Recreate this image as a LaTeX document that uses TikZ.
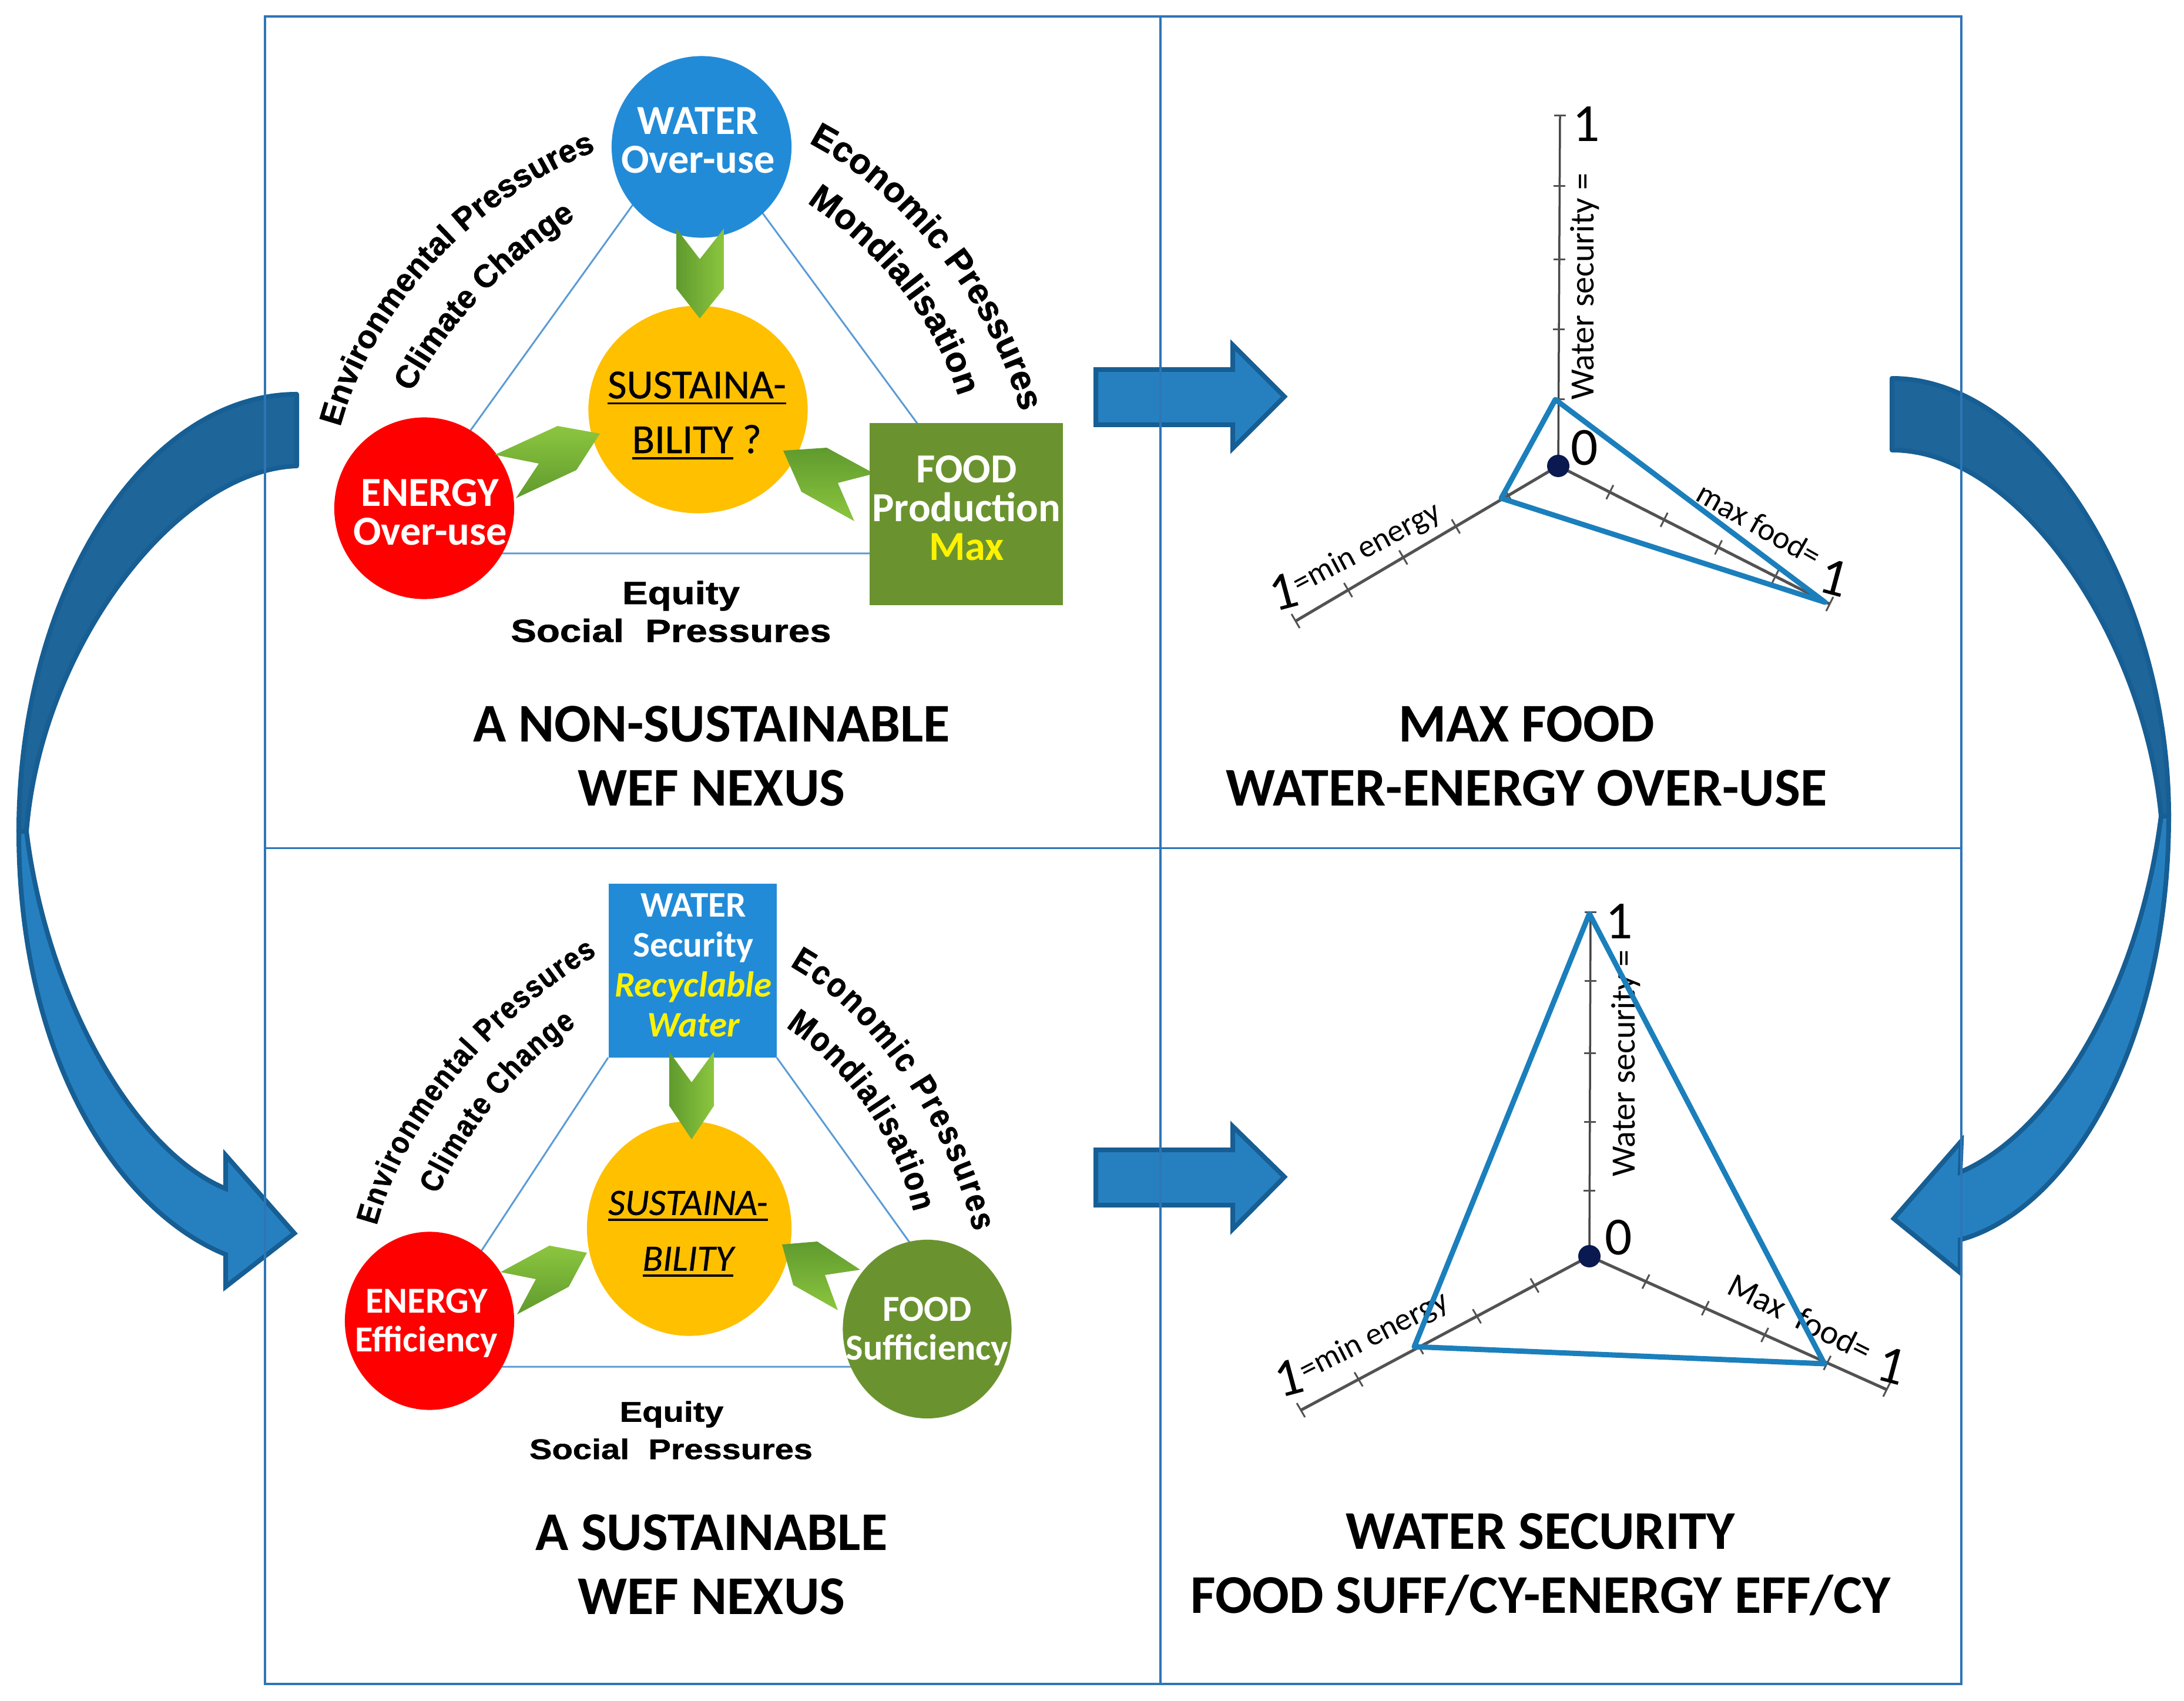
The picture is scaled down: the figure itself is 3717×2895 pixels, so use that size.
\documentclass[tikz,border=0pt]{standalone}
\usepackage{fontspec}
\usetikzlibrary{shapes.geometric,decorations.text,calc}
\setmainfont{Carlito}
\newfontfamily\carm{Carlito}[FakeBold=0.5]
\newfontfamily\arcf{Liberation Sans}[BoldFeatures={FakeBold=1.2}]
\newfontfamily\arcn{Liberation Sans}[BoldFeatures={FakeBold=1.2,FakeStretch=0.88}]
\newfontfamily\wid{Liberation Sans}[BoldFeatures={FakeBold=1.2,FakeStretch=1.2}]
\newcommand{\uln}[1]{\leavevmode\setbox0\hbox{#1}\rlap{\rule[-3pt]{\wd0}{1.1pt}}\box0\relax}
\definecolor{wblue}{HTML}{228BD8}
\definecolor{fgreen}{HTML}{6A932F}
\definecolor{sgold}{HTML}{FFC000}
\definecolor{tri}{HTML}{5B9BD5}
\definecolor{frameC}{HTML}{2E75B6}
\definecolor{arF}{HTML}{2680C0}
\definecolor{arB}{HTML}{1E6699}
\definecolor{arE}{HTML}{165E93}
\definecolor{gL}{HTML}{8CC63F}
\definecolor{gD}{HTML}{5F9A2E}
\definecolor{radar}{HTML}{1B7FBC}
\definecolor{navy}{HTML}{0A1A50}
\tikzset{
  fs/.style={font=\bfseries\fontsize{#1}{18.8}\selectfont},
  blob/.style n args={3}{ellipse,inner sep=0pt,minimum width=#1cm,minimum height=#2cm,fill=#3},
  wtxt/.style={text=white,align=center,inner sep=0pt},
  tline/.style={tri,line width=.03cm},
  bigar/.style={fill=arF,draw=arE,line width=.08cm,line join=miter},
  bigback/.style={fill=arB,draw=arE,line width=.08cm,line join=round},
  lcho/.style={top color=gL,bottom color=gD},
  dcho/.style={left color=gD,right color=gL},
  rcho/.style={top color=gD,bottom color=gL},
  arctx/.style n args={2}{decorate,decoration={text along path,text align={fit to path},
     text={|\arcf\bfseries\fontsize{#1}{#1}\selectfont|#2}}},
  arcnx/.style n args={2}{decorate,decoration={text along path,text align={fit to path},
     text={|\arcn\bfseries\fontsize{#1}{#1}\selectfont|#2}}},
  flat/.style={inner sep=0pt,align=center,font=\wid\bfseries\fontsize{#1}{#1}\selectfont},
  title/.style={inner sep=0pt,align=center,font=\bfseries\fontsize{26.4}{31}\selectfont},
  axisL/.style={draw=black!68,line width=.05cm},
  axisV/.style={draw=black!72,line width=.035cm},
  tick/.style={draw=black!68,line width=.03cm},
  rtri/.style={draw=radar,line width=.09cm,line join=round},
  dig/.style={inner sep=0pt,font=\fontsize{26}{26}\selectfont},
  rlab/.style={inner sep=0pt,font=\fontsize{#1}{#1}\selectfont},
  dot/.style={circle,fill=navy,inner sep=0pt,minimum size=.38cm},
}
\begin{document}
\begin{tikzpicture}[x=.01cm,y=-.01cm]
\useasboundingbox (0,0) rectangle (3717,2895);

% curved arrows
\draw[bigar] (32,1415) .. controls (32,1800) and (200,2060) .. (384,2135) -- (384,2190) -- (501,2099) -- (384,1966) -- (384,2023) .. controls (230,1960) and (80,1700) .. (45,1415) -- cycle;
\draw[bigback] (505,671) .. controls (247,671) and (32,1006) .. (32,1415) -- (45,1415) .. controls (70,1100) and (300,800) .. (505,793) -- cycle;
\draw[bigar] (3691,1389) .. controls (3691,1780) and (3520,2060) .. (3336,2110) -- (3336,2166) -- (3223,2074) -- (3338,1942) -- (3336,1995) .. controls (3490,1930) and (3640,1690) .. (3678,1389) -- cycle;
\draw[bigback] (3220,644) .. controls (3470,644) and (3691,1010) .. (3691,1389) -- (3678,1389) .. controls (3650,1090) and (3440,766) .. (3220,766) -- cycle;
% straight arrows
\draw[bigar] (1865,629) -- (2098,629) -- (2098,587) -- (2186,675) -- (2098,763) -- (2098,723) -- (1865,723) -- cycle;
\draw[bigar] (1865,1957) -- (2098,1957) -- (2098,1917) -- (2186,2003) -- (2098,2092) -- (2098,2051) -- (1865,2051) -- cycle;

% frame
\draw[frameC,line width=.035cm] (451,28) rectangle (3338,2866);
\draw[frameC,line width=.035cm] (1975,28) -- (1975,2866);
\draw[frameC,line width=.03cm] (451,1444) -- (3338,1444);

%%%% TOP LEFT
\coordinate (ta) at (1181,204);
\coordinate (tb) at (650,942);
\coordinate (tc) at (1724,942);
\draw[tline] (ta) -- (tb) -- (tc) -- cycle;
\node[blob={3.06}{3.09}{wblue}] (water1) at (1194,250) {};
\node[blob={3.73}{3.53}{sgold}] (sus1) at (1188,697) {};
\node[blob={3.06}{3.09}{red}] (energy1) at (722,865) {};
\path[lcho] (842,774) -- (949,725) -- (1021,738) -- (981,800) -- (878,848) -- (917,789) -- cycle;
\path[rcho] (1333,767) -- (1407,762) -- (1488,806) -- (1426,822) -- (1454,887) -- (1364,837) -- cycle;
\path[dcho] (1151,389) -- (1191,441) -- (1232,389) -- (1232,491) -- (1191,542) -- (1151,491) -- cycle;
\node[fill=fgreen,inner sep=0pt,minimum width=3.29cm,minimum height=3.10cm] (food1) at (1644.5,875) {};
\node[wtxt,fs=20] (water1t) at (1188,239) {WATER\\Over-use};
\node[wtxt,fs=20] (energy1t) at (732,872) {ENERGY\\Over-use};
\node[wtxt,fs=20] (food1t) at (1645,865) {FOOD\\Production\\\textcolor{yellow}{Max}};
\node[inner sep=0pt,align=center,font=\carm\fontsize{20}{26.5}\selectfont] (sus1t) at (1186,707) {\uln{SUSTAINA-}\\\uln{BILITY}\ ?};
\path[arctx={15.5}{Environmental Pressures}] (579,727) .. controls (632,529) and (804,338) .. (1014,257);
\path[arctx={15.5}{Climate Change}] (701,668) .. controls (756,558) and (861,448) .. (974,375);
\path[arctx={17}{Economic Pressures}] (1376,243) .. controls (1531,323) and (1684,507) .. (1737,701);
\path[arctx={17}{Mondialisation}] (1373,345) .. controls (1474,411) and (1588,529) .. (1631,675);
\node[flat=15.5] (eq1) at (1159,1014) {Equity};
\node[flat=15.5] (soc1) at (1142,1073) {Social\ \ Pressures};
\node[title] (title1) at (1211,1287) {A NON-SUSTAINABLE\\WEF NEXUS};

%%%% BOTTOM LEFT
\coordinate (bb) at (690,2326);
\coordinate (bc) at (1700,2326);
\coordinate (ba1) at (1035,1800);
\coordinate (ba2) at (1322,1800);
\draw[tline] (ba1) -- (bb) -- (bc) -- (ba2);
\node[fill=wblue,inner sep=0pt,minimum width=2.86cm,minimum height=2.96cm] (water2) at (1179,1652) {};
\node[blob={3.48}{3.65}{sgold}] (sus2) at (1173,2091) {};
\node[blob={2.88}{3.03}{red}] (energy2) at (731,2248) {};
\node[blob={2.87}{3.04}{fgreen}] (food2) at (1578,2262) {};
\path[lcho] (852,2165) -- (935,2120) -- (999,2132) -- (968,2190) -- (880,2237) -- (912,2177) -- cycle;
\path[rcho] (1331,2118) -- (1391,2113) -- (1464,2161) -- (1404,2170) -- (1426,2230) -- (1350,2187) -- cycle;
\path[dcho] (1139,1790) -- (1177,1842) -- (1215,1790) -- (1215,1882) -- (1177,1939) -- (1139,1882) -- cycle;
\node[wtxt,font=\bfseries\fontsize{17.4}{19.3}\selectfont] (water2t) at (1180,1643) {WATER\\Security\\\textcolor{yellow}{\itshape Recyclable}\\\textcolor{yellow}{\itshape Water}};
\node[wtxt,fs=17.7] (energy2t) at (726,2252) {ENERGY\\Efficiency};
\node[wtxt,fs=17.7] (food2t) at (1578,2266) {FOOD\\Sufficiency};
\node[inner sep=0pt,align=center,font=\carm\itshape\fontsize{18}{27}\selectfont] (sus2t) at (1171,2100) {\uln{SUSTAINA-}\\\uln{BILITY}};
\path[arcnx={15}{Environmental Pressures}] (641,2086) .. controls (687,1912) and (832,1738) .. (1016,1625);
\path[arcnx={15}{Climate Change}] (745,2033) .. controls (790,1932) and (881,1812) .. (981,1745);
\path[arcnx={16.5}{Economic Pressures}] (1344,1644) .. controls (1478,1718) and (1611,1905) .. (1657,2096);
\path[arcnx={16.5}{Mondialisation}] (1337,1748) .. controls (1425,1805) and (1520,1919) .. (1555,2063);
\node[flat=13.7] (eq2) at (1143,2407) {Equity};
\node[flat=13.7] (soc2) at (1142,2466) {Social\ \ Pressures};
\node[title] (title2) at (1211,2663) {A SUSTAINABLE\\WEF NEXUS};

%%%% TOP RIGHT radar
\coordinate (o1) at (2652,793);
\coordinate (v1) at (2655,197);
\coordinate (l1) at (2205,1057);
\coordinate (r1) at (3114,1028);
\draw[axisV] (o1) -- (v1);
\draw[axisL] (o1) -- (l1);
\draw[axisL] (o1) -- (r1);
\foreach \f in {.19,.39,.59,.80,1}{
  \draw[tick] ($(o1)!\f!(v1)$) ++(-10,0) -- ++(20,0);
  \draw[tick] ($(o1)!\f!(l1)$) ++(-7,-12) -- ++(14,24);
  \draw[tick] ($(o1)!\f!(r1)$) ++(6,-12) -- ++(-12,24);
}
\coordinate (t1a) at (2647,680);
\coordinate (t1b) at (2555,848);
\coordinate (t1c) at (3106,1025);
\draw[rtri] (t1a) -- (t1b) -- (t1c) -- cycle;
\node[dot] (dot1) at (o1) {};
\node[dig] (one1v) at (2700,211) {1};
\node[dig] (zero1) at (2697,762) {0};
\node[dig,rotate=15] (one1l) at (2184,1007) {1};
\node[dig,rotate=-15] (one1r) at (3121,983) {1};
\node[rlab=16.5,rotate=90] (ws1) at (2697,488) {Water security =};
\node[rlab=15.5,rotate=28] (me1) at (2327,934) {=min energy};
\node[rlab=15.5,rotate=-29.5] (mf1) at (2994,892) {max food=};
\node[title] (title3) at (2598,1287) {MAX FOOD\\WATER-ENERGY OVER-USE};

%%%% BOTTOM RIGHT radar
\coordinate (o2) at (2705,2138);
\coordinate (v2) at (2707,1553);
\coordinate (l2) at (2214,2400);
\coordinate (r2) at (3211,2365);
\draw[axisV] (o2) -- (v2);
\draw[axisL] (o2) -- (l2);
\draw[axisL] (o2) -- (r2);
\foreach \f in {.19,.39,.59,.80,1}{
  \draw[tick] ($(o2)!\f!(v2)$) ++(-10,0) -- ++(20,0);
  \draw[tick] ($(o2)!\f!(l2)$) ++(-7,-12) -- ++(14,24);
  \draw[tick] ($(o2)!\f!(r2)$) ++(6,-12) -- ++(-12,24);
}
\node[rlab=16.5,rotate=90] (ws2) at (2767,1810) {Water security =};
\node[rlab=15.5,rotate=27] (me2) at (2339,2275) {=min energy};
\node[rlab=16.5,rotate=-26.7] (mf2) at (3064,2242) {Max\ \ food=};
\coordinate (t2a) at (2705,1555);
\coordinate (t2b) at (2407,2292);
\coordinate (t2c) at (3105,2321);
\draw[rtri] (t2a) -- (t2b) -- (t2c) -- cycle;
\node[dot] (dot2) at (o2) {};
\node[dig] (one2v) at (2756,1568) {1};
\node[dig] (zero2) at (2755,2106) {0};
\node[dig,rotate=15] (one2l) at (2193,2345) {1};
\node[dig,rotate=-15] (one2r) at (3219,2324) {1};
\node[title] (title4) at (2622,2663) {WATER SECURITY\\FOOD SUFF/CY-ENERGY EFF/CY};
\end{tikzpicture}
\end{document}
